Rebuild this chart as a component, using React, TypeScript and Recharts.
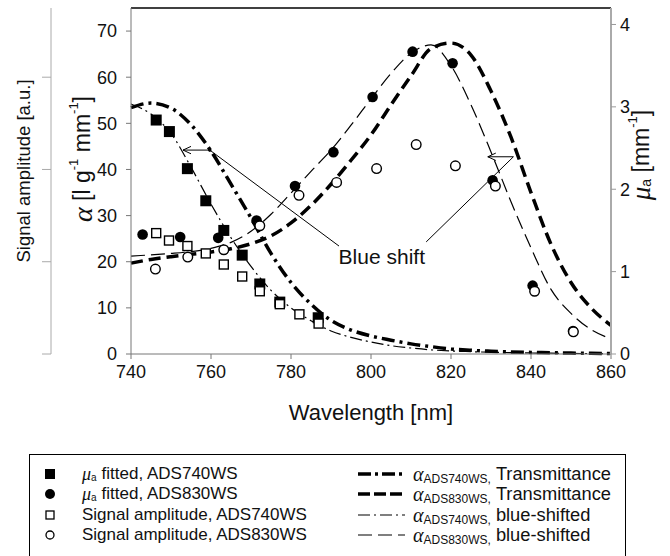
import React from 'react';
import {
  ComposedChart,
  Line,
  Scatter,
  XAxis,
  YAxis,
  ReferenceLine,
  ReferenceDot,
  Legend,
} from 'recharts';

// curve samples, left axis units (l g-1 mm-1)
const wavelengths = [740, 745, 750, 755, 760, 765, 770, 775, 780, 785, 790, 795, 800, 805, 810, 815, 820, 825, 830, 835, 840, 845, 850, 855, 860];
const alpha740Trans = [53.4, 54.4, 53.3, 49.7, 44.0, 36.8, 29.5, 21.8, 15.5, 10.8, 7.3, 5.2, 3.9, 3.0, 2.2, 1.6, 1.1, 0.8, 0.6, 0.45, 0.35, 0.28, 0.2, 0.15, 0.1];
const alpha830Trans = [19.7, 20.5, 21.1, 21.6, 22.1, 22.8, 23.9, 25.6, 28.4, 32.2, 36.8, 42.0, 47.5, 54.0, 60.3, 66.2, 67.4, 64.8, 57.0, 47.0, 35.0, 23.8, 15.5, 10.0, 6.2];
const alpha740Shift = [54.2, 52.0, 47.8, 40.5, 32.5, 25.2, 19.0, 13.8, 10.0, 7.2, 5.0, 3.6, 2.6, 1.8, 1.3, 0.9, 0.65, 0.5, 0.38, 0.3, 0.22, 0.17, 0.13, 0.1, 0.08];
const alpha830Shift = [21.2, 21.5, 21.8, 22.2, 22.9, 24.2, 26.6, 30.3, 34.9, 39.6, 44.2, 49.6, 55.3, 60.8, 65.2, 67.0, 62.5, 54.0, 43.8, 33.0, 23.0, 14.0, 8.8, 5.3, 3.3];

// fitted mua (mm-1)
const mua740Nm = [746.3, 749.6, 754.1, 758.7, 763.2, 767.8, 772.2, 777.2, 786.8];
const mua740 = [2.84, 2.70, 2.25, 1.86, 1.50, 1.20, 0.85, 0.63, 0.44];
const mua830Nm = [742.9, 752.3, 761.8, 771.4, 781.0, 790.6, 800.4, 810.4, 820.4, 830.4, 840.4, 850.5];
const mua830 = [1.45, 1.42, 1.41, 1.62, 2.04, 2.45, 3.12, 3.67, 3.53, 2.11, 0.83, 0.28];

// signal amplitude (a.u.)
const sig740Nm = [746.3, 749.5, 754.1, 758.7, 763.2, 767.8, 772.2, 777.2, 782.1, 786.9];
const sig740 = [1.31, 1.23, 1.17, 1.09, 0.97, 0.84, 0.68, 0.54, 0.43, 0.33];
const sig830Nm = [746.1, 754.2, 763.2, 772.2, 782.0, 791.4, 801.4, 811.3, 821.1, 831.1, 840.9, 850.6];
const sig830 = [0.92, 1.05, 1.13, 1.39, 1.72, 1.86, 2.01, 2.27, 2.04, 1.82, 0.68, 0.24];

const xTicks = [740, 760, 780, 800, 820, 840, 860];
const alphaTicks = [0, 10, 20, 30, 40, 50, 60, 70];
const muaTicks = [0, 1, 2, 3, 4];
const signalTicks = [0, 1, 2, 3];

const curveData = wavelengths.map((nm, i) => ({
  nm,
  a740t: alpha740Trans[i],
  a830t: alpha830Trans[i],
  a740s: alpha740Shift[i],
  a830s: alpha830Shift[i],
}));
const toPts = (xs: number[], ys: number[]) => xs.map((nm, i) => ({ nm, v: ys[i] }));

const SANS = '"Liberation Sans", Arial, sans-serif';
const SERIF = '"Liberation Serif", "Times New Roman", serif';

const FilledSquare = (p: any) => <rect x={p.cx - 5.5} y={p.cy - 5.5} width={11} height={11} fill="#000" />;
const FilledCircle = (p: any) => <circle cx={p.cx} cy={p.cy} r={5.3} fill="#000" />;
const OpenSquare = (p: any) => (
  <rect x={p.cx - 4.5} y={p.cy - 4.5} width={9} height={9} fill="#fff" stroke="#000" strokeWidth={1.4} />
);
const OpenCircle = (p: any) => <circle cx={p.cx} cy={p.cy} r={4.8} fill="#fff" stroke="#000" strokeWidth={1.4} />;

const AlphaLabel = ({ viewBox }: any) => {
  const cx = viewBox.x + 31;
  const cy = viewBox.y + 151;
  return (
    <text transform={`translate(${cx},${cy}) rotate(-90)`} textAnchor="middle" dominantBaseline="central" fontSize={23} fontFamily={SANS} fill="#111">
      <tspan fontFamily={SERIF} fontStyle="italic" fontSize={28}>α</tspan>
      <tspan> [l g</tspan>
      <tspan fontSize={13} dy={-9}>-1</tspan>
      <tspan dy={9}> mm</tspan>
      <tspan fontSize={13} dy={-9}>-1</tspan>
      <tspan dy={9}>]</tspan>
    </text>
  );
};

const SignalLabel = ({ viewBox }: any) => (
  <text transform={`translate(${viewBox.x + 7},${viewBox.y + 163}) rotate(-90)`} textAnchor="middle" dominantBaseline="central" fontSize={18.5} fontFamily={SANS} fill="#111">
    Signal amplitude [a.u.]
  </text>
);

const MuaLabel = ({ viewBox }: any) => (
  <text transform={`translate(${viewBox.x + 30},${viewBox.y + 147}) rotate(-90)`} textAnchor="middle" dominantBaseline="central" fontSize={23} fontFamily={SANS} fill="#111">
    <tspan fontFamily={SERIF} fontStyle="italic" fontSize={27}>μ</tspan>
    <tspan fontSize={14} dy={5}>a</tspan>
    <tspan dy={-5}> [mm</tspan>
    <tspan fontSize={13} dy={-9}>-1</tspan>
    <tspan dy={9}>]</tspan>
  </text>
);

const XLabel = ({ viewBox }: any) => (
  <text x={viewBox.x + viewBox.width / 2} y={viewBox.y + 66} textAnchor="middle" fontSize={22} fontFamily={SANS} fill="#111">
    Wavelength [nm]
  </text>
);

const markerRows = [
  { shape: 'fsq', pre: true, text: 'fitted, ADS740WS' },
  { shape: 'fci', pre: true, text: 'fitted, ADS830WS' },
  { shape: 'osq', pre: false, text: 'Signal amplitude, ADS740WS' },
  { shape: 'oci', pre: false, text: 'Signal amplitude, ADS830WS' },
];
const lineRows = [
  { w: 3.5, dash: '13 4 3 4', sub: 'ADS740WS', text: 'Transmittance' },
  { w: 3.5, dash: '12 4', sub: 'ADS830WS', text: 'Transmittance' },
  { w: 1.2, dash: '12 4 2 4', sub: 'ADS740WS', text: 'blue-shifted' },
  { w: 1.2, dash: '14 6', sub: 'ADS830WS', text: 'blue-shifted' },
];

const subStyle = (fs: number): React.CSSProperties => ({
  fontSize: fs,
  display: 'inline-block',
  lineHeight: 1,
  verticalAlign: 'top',
  marginTop: 9,
});

const rowTop = (i: number) => 9 + i * 20.3;

const LegendBox = () => (
  <div style={{ position: 'relative', width: 597, height: 102, boxSizing: 'border-box', borderTop: '1px solid #000', borderLeft: '1px solid #000', borderRight: '1px solid #000', fontFamily: SANS, fontSize: 17, color: '#111' }}>
    {markerRows.map((r, i) => (
      <div key={i} style={{ position: 'absolute', left: 0, top: rowTop(i), height: 20, width: 300 }}>
        <svg width={40} height={20} style={{ position: 'absolute', left: 6, top: 0 }}>
          {r.shape === 'fsq' && <rect x={9} y={5} width={10} height={10} fill="#000" />}
          {r.shape === 'fci' && <circle cx={14} cy={10} r={5} fill="#000" />}
          {r.shape === 'osq' && <rect x={10} y={6} width={8} height={8} fill="#fff" stroke="#000" strokeWidth={1.3} />}
          {r.shape === 'oci' && <circle cx={14} cy={10} r={4} fill="#fff" stroke="#000" strokeWidth={1.3} />}
        </svg>
        <div style={{ position: 'absolute', left: 52, top: 0, height: 20, lineHeight: '20px', whiteSpace: 'nowrap', display: 'flex' }}>
          {r.pre && (
            <>
              <span style={{ fontFamily: SERIF, fontStyle: 'italic', fontSize: 18 }}>μ</span>
              <span style={subStyle(10)}>a</span>
              <span style={{ width: 5 }} />
            </>
          )}
          <span>{r.text}</span>
        </div>
      </div>
    ))}
    {lineRows.map((r, i) => (
      <div key={i} style={{ position: 'absolute', left: 320, top: rowTop(i), height: 20, width: 274 }}>
        <svg width={60} height={20} style={{ position: 'absolute', left: 8, top: 0 }}>
          <line x1={0} y1={10} x2={47} y2={10} stroke="#000" strokeWidth={r.w} strokeDasharray={r.dash} />
        </svg>
        <div style={{ position: 'absolute', left: 63, top: 0, height: 20, lineHeight: '20px', whiteSpace: 'nowrap', display: 'flex', fontSize: 18.3 }}>
          <span style={{ fontFamily: SERIF, fontStyle: 'italic', fontSize: 20 }}>α</span>
          <span style={subStyle(12)}>{r.sub},</span>
          <span style={{ width: 5 }} />
          <span>{r.text}</span>
        </div>
      </div>
    ))}
  </div>
);

const tickStyle = { fontSize: 18, fontFamily: SANS, fill: '#111' };

export default function App() {
  return (
    <div style={{ position: 'absolute', left: 0, top: 0, width: 670, height: 556, background: '#fff' }}>
      <ComposedChart width={670} height={556} data={curveData} margin={{ top: 8, right: 9, bottom: 0, left: 16 }}>
        <XAxis
          dataKey="nm"
          type="number"
          domain={[740, 860]}
          ticks={xTicks}
          height={100}
          tickSize={5}
          tickMargin={6}
          stroke="#777"
          tick={tickStyle}
          label={<XLabel />}
        />
        <YAxis
          yAxisId="alpha"
          orientation="left"
          type="number"
          domain={[0, 75]}
          ticks={alphaTicks}
          width={80}
          tickSize={5}
          tickMargin={9}
          stroke="#777"
          tick={tickStyle}
          label={<AlphaLabel />}
        />
        <YAxis
          yAxisId="signal"
          orientation="left"
          type="number"
          domain={[0, 3.75]}
          ticks={signalTicks}
          width={35}
          tickSize={9}
          tickFormatter={() => ''}
          stroke="#aaa"
          label={<SignalLabel />}
        />
        <YAxis
          yAxisId="mua"
          orientation="right"
          type="number"
          domain={[0, 4.2]}
          ticks={muaTicks}
          width={50}
          tickSize={5}
          tickMargin={4}
          stroke="#999"
          axisLine={{ stroke: '#aaa', strokeWidth: 2 }}
          tick={tickStyle}
          label={<MuaLabel />}
        />
        <ReferenceLine yAxisId="alpha" y={75} stroke="#000" strokeWidth={1.3} />

        <Line yAxisId="alpha" dataKey="a740t" type="monotone" stroke="#000" strokeWidth={3.5} strokeDasharray="13 5 3 5" dot={false} isAnimationActive={false} />
        <Line yAxisId="alpha" dataKey="a830t" type="monotone" stroke="#000" strokeWidth={3.5} strokeDasharray="12 6" dot={false} isAnimationActive={false} />
        <Line yAxisId="alpha" dataKey="a740s" type="monotone" stroke="#000" strokeWidth={1.2} strokeDasharray="12 4 2 4" dot={false} isAnimationActive={false} />
        <Line yAxisId="alpha" dataKey="a830s" type="monotone" stroke="#000" strokeWidth={1.2} strokeDasharray="14 6" dot={false} isAnimationActive={false} />

        <Scatter yAxisId="mua" data={toPts(mua830Nm, mua830)} dataKey="v" shape={FilledCircle} isAnimationActive={false} />
        <Scatter yAxisId="mua" data={toPts(mua740Nm, mua740)} dataKey="v" shape={FilledSquare} isAnimationActive={false} />
        <Scatter yAxisId="signal" data={toPts(sig740Nm, sig740)} dataKey="v" shape={OpenSquare} isAnimationActive={false} />
        <Scatter yAxisId="signal" data={toPts(sig830Nm, sig830)} dataKey="v" shape={OpenCircle} isAnimationActive={false} />

        {/* blue shift annotations */}
        <ReferenceLine yAxisId="alpha" segment={[{ x: 753, y: 44.2 }, { x: 759.7, y: 44.2 }]} stroke="#000" strokeWidth={1} />
        <ReferenceLine yAxisId="alpha" segment={[{ x: 753, y: 44.2 }, { x: 755, y: 45.0 }]} stroke="#000" strokeWidth={1} />
        <ReferenceLine yAxisId="alpha" segment={[{ x: 753, y: 44.2 }, { x: 755, y: 43.4 }]} stroke="#000" strokeWidth={1} />
        <ReferenceLine yAxisId="alpha" segment={[{ x: 759.7, y: 44.2 }, { x: 792, y: 23.4 }]} stroke="#000" strokeWidth={1} />
        <ReferenceDot yAxisId="alpha" x={759.7} y={44.2} r={1.8} fill="#000" stroke="none" />
        <ReferenceLine yAxisId="alpha" segment={[{ x: 829.2, y: 42.75 }, { x: 835.6, y: 42.75 }]} stroke="#000" strokeWidth={1} />
        <ReferenceLine yAxisId="alpha" segment={[{ x: 829.2, y: 42.75 }, { x: 831.2, y: 43.55 }]} stroke="#000" strokeWidth={1} />
        <ReferenceLine yAxisId="alpha" segment={[{ x: 829.2, y: 42.75 }, { x: 831.2, y: 41.95 }]} stroke="#000" strokeWidth={1} />
        <ReferenceLine yAxisId="alpha" segment={[{ x: 813.8, y: 24.3 }, { x: 835.6, y: 42.75 }]} stroke="#000" strokeWidth={1} />
        <ReferenceDot
          yAxisId="alpha"
          x={802.7}
          y={21.2}
          r={0}
          fill="none"
          stroke="none"
          label={{ value: 'Blue shift', position: 'center', fontSize: 21, fontFamily: SANS, fill: '#111' }}
        />

        <Legend verticalAlign="bottom" wrapperStyle={{ left: 29, width: 597, bottom: 0 }} content={() => <LegendBox />} />
      </ComposedChart>
    </div>
  );
}
